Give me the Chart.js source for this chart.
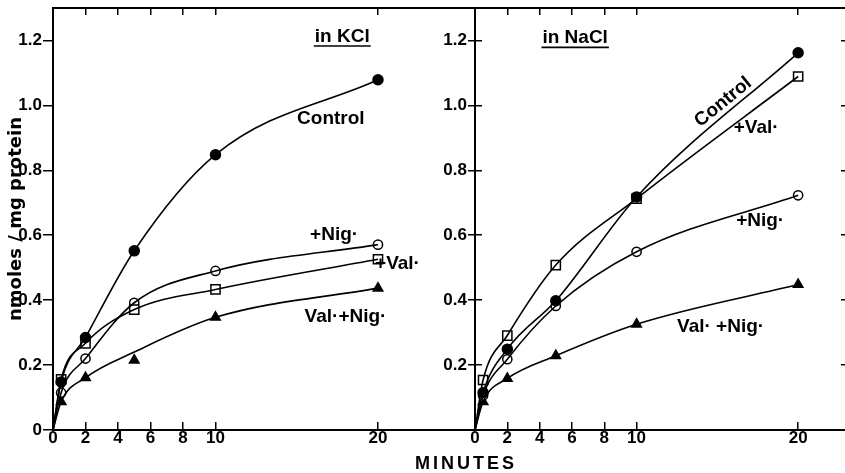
<!DOCTYPE html>
<html><head><meta charset="utf-8">
<script src="https://cdn.jsdelivr.net/npm/chart.js@4.4.1/dist/chart.umd.min.js"></script>
<style>
html,body{margin:0;padding:0;background:#fff;}
#wrap{position:relative;width:845px;height:473px;overflow:hidden;background:#fff;}
#c1{position:absolute;left:0;top:0;}
#c2{position:absolute;left:440px;top:0;}
#xt{position:absolute;left:316px;width:300px;top:453px;text-align:center;font:bold 18px "Liberation Sans",Arial,sans-serif;letter-spacing:3px;line-height:20px;color:#000;}
</style></head><body>
<div id="wrap">
<canvas id="c1" width="475" height="473"></canvas>
<canvas id="c2" width="405" height="473"></canvas>
<div id="xt">MINUTES</div>
</div>
<script>
// ---------- data ----------
const minutes = [0, 0.5, 2, 5, 10, 20];
const xTicks = [0, 2, 4, 6, 8, 10, 20];
const xTickLabels = ['0', '2', '4', '6', '8', '10', '20'];
const yTicks = [0, 0.2, 0.4, 0.6, 0.8, 1.0, 1.2];
const yTickLabelsLeft = ['0', '0.2', '0.4', '0.6', '0.8', '1.0', '1.2'];
const yTickLabelsRight = ['', '0.2', '0.4', '0.6', '0.8', '1.0', '1.2'];

// in KCl (nmoles / mg protein)
const kclControl = [0, 0.148, 0.285, 0.552, 0.848, 1.079];
const kclVal     = [0, 0.156, 0.267, 0.371, 0.433, 0.526];
const kclNig     = [0, 0.115, 0.220, 0.392, 0.490, 0.571];
const kclValNig  = [0, 0.087, 0.161, 0.215, 0.347, 0.437];
const kclValNigCurve = [0, 0.087, 0.161, 0.240, 0.347, 0.437];

// in NaCl (nmoles / mg protein)
const naclControl = [0, 0.115, 0.249, 0.398, 0.718, 1.162];
const naclVal     = [0, 0.154, 0.291, 0.508, 0.713, 1.089];
const naclNig     = [0, 0.106, 0.218, 0.382, 0.549, 0.723];
const naclValNig  = [0, 0.087, 0.159, 0.229, 0.326, 0.448];

const kclLabels  = ['in KCl', 'Control', '+Nig·', '+Val·', 'Val·+Nig·'];
const naclLabels = ['in NaCl', 'Control', '+Val·', '+Nig·', 'Val· +Nig·'];

// ---------- styling / layout ----------
const INK = '#000';
const labelFont = 'bold 19px "Liberation Sans", Arial, sans-serif';
const tickFont = {family: '"Liberation Sans", Arial, sans-serif', size: 17, weight: 'bold'};

const markerStyles = {
  control: {pointStyle: 'circle', pointRadius: 5, backgroundColor: INK},
  val:     {pointStyle: 'rect', pointRadius: 6.5, backgroundColor: '#fff'},
  nig:     {pointStyle: 'circle', pointRadius: 4.6, backgroundColor: '#fff'},
  valnig:  {pointStyle: 'triangle', pointRadius: 5.5, backgroundColor: INK}
};

const kclLabelPos = [
  {x: 17.8, y: 1.212, underline: true},
  {x: 17.1, y: 0.96},
  {x: 17.3, y: 0.600},
  {x: 21.2, y: 0.512},
  {x: 18.0, y: 0.348}
];
const naclLabelPos = [
  {x: 6.2, y: 1.208, underline: true},
  {x: 15.36, y: 1.01, rot: -39},
  {x: 17.4, y: 0.93},
  {x: 17.65, y: 0.646},
  {x: 15.2, y: 0.317}
];

function pts(ys, skipZero) {
  const out = [];
  minutes.forEach((t, i) => { if (!(skipZero && t === 0)) out.push({x: t, y: ys[i]}); });
  return out;
}

function makeLabelPlugin(texts, pos) {
  return {
    id: 'panelLabels',
    afterDatasetsDraw(chart) {
      const {ctx} = chart;
      const xs = chart.scales.x, ys = chart.scales.y;
      ctx.save();
      ctx.fillStyle = INK; ctx.strokeStyle = INK;
      ctx.font = labelFont;
      ctx.textAlign = 'center'; ctx.textBaseline = 'middle';
      texts.forEach((t, i) => {
        const p = pos[i];
        const px = xs.getPixelForValue(p.x), py = ys.getPixelForValue(p.y);
        ctx.save();
        ctx.translate(px, py);
        ctx.rotate((p.rot || 0) * Math.PI / 180);
        ctx.fillText(t, 0, 0);
        if (p.underline) {
          const w = ctx.measureText(t).width;
          ctx.lineWidth = 1.6;
          ctx.beginPath(); ctx.moveTo(-w / 2 - 1, 9.5); ctx.lineTo(w / 2 + 1, 9.5); ctx.stroke();
        }
        ctx.restore();
      });
      ctx.restore();
    }
  };
}

function setTicks(arr) { return s => { s.ticks = arr.map(v => ({value: v})); }; }
function fitH(h) { return s => { s.height = h; s.paddingLeft = 0; s.paddingRight = 0; s.paddingTop = 0; s.paddingBottom = 0; }; }
function fitW(w) { return s => { s.width = w; s.paddingLeft = 0; s.paddingRight = 0; s.paddingTop = 0; s.paddingBottom = 0; }; }

function buildPanel(canvas, series, xMax, isLeft, labels, labelPos) {
  const datasets = [];
  series.forEach(s => {
    datasets.push({
      data: pts(s.curve || s.values, false),
      showLine: true, pointRadius: 0, pointHoverRadius: 0,
      borderColor: INK, borderWidth: 1.6, cubicInterpolationMode: 'monotone', fill: false
    });
  });
  series.forEach(s => {
    const m = markerStyles[s.marker];
    datasets.push({
      data: pts(s.values, true), showLine: false,
      pointStyle: m.pointStyle, pointRadius: m.pointRadius, pointHoverRadius: m.pointRadius,
      backgroundColor: m.backgroundColor, borderColor: INK, pointBorderWidth: 1.5
    });
  });

  const scales = {
    x: {
      type: 'linear', position: 'bottom', min: 0, max: xMax,
      afterBuildTicks: setTicks(xTicks),
      afterFit: fitH(43),
      border: {display: true, color: INK, width: 2},
      grid: {display: true, drawOnChartArea: false, drawTicks: true, tickLength: -8, color: INK, lineWidth: 1.5},
      ticks: {color: INK, font: tickFont, padding: 6, maxRotation: 0, autoSkip: false,
              callback: (v, i) => xTickLabels[i]}
    },
    xTop: {
      type: 'linear', position: 'top', min: 0, max: xMax,
      afterBuildTicks: setTicks(xTicks),
      afterFit: fitH(8),
      border: {display: true, color: INK, width: 2},
      grid: {display: true, drawOnChartArea: false, drawTicks: true, tickLength: -7, color: INK, lineWidth: 1.5},
      ticks: {display: false}
    },
    y: {
      type: 'linear', position: 'left', min: 0, max: 1.3, weight: 1,
      afterBuildTicks: setTicks(yTicks),
      afterFit: fitW(isLeft ? 53 : 35),
      border: {display: true, color: INK, width: 2},
      grid: {display: true, drawOnChartArea: false, drawTicks: true, tickLength: isLeft ? 10 : 7, color: INK, lineWidth: 1.5},
      ticks: {color: INK, font: tickFont, padding: 1,
              callback: (v, i) => (isLeft ? yTickLabelsLeft : yTickLabelsRight)[i]},
      title: isLeft ? {display: true, text: 'nmoles / mg protein', color: INK,
              font: {family: '"DejaVu Sans", sans-serif', size: 18, weight: 'bold'}, padding: {top: 6, bottom: 0}} : {display: false}
    }
  };
  if (!isLeft) {
    scales.yIn = {
      type: 'linear', position: 'left', min: 0, max: 1.3, weight: 0,
      afterBuildTicks: setTicks(yTicks),
      afterFit: fitW(0),
      border: {display: false},
      grid: {display: true, drawOnChartArea: false, drawTicks: true, tickLength: -7, color: INK, lineWidth: 1.5},
      ticks: {display: false}
    };
    scales.yR = {
      type: 'linear', position: 'right', min: 0, max: 1.3,
      afterBuildTicks: setTicks(yTicks),
      afterFit: fitW(0),
      border: {display: false},
      grid: {display: true, drawOnChartArea: false, drawTicks: true, tickLength: -4, color: INK, lineWidth: 1.5},
      ticks: {display: false}
    };
  }

  return new Chart(canvas, {
    type: 'scatter',
    data: {datasets},
    options: {
      responsive: false, animation: false, devicePixelRatio: 1,
      layout: {padding: 0, autoPadding: false},
      events: [],
      plugins: {legend: {display: false}, tooltip: {enabled: false}, title: {display: false}},
      scales
    },
    plugins: [makeLabelPlugin(labels, labelPos)]
  });
}

buildPanel(document.getElementById('c1'), [
  {values: kclControl, marker: 'control'},
  {values: kclVal, marker: 'val'},
  {values: kclNig, marker: 'nig'},
  {values: kclValNig, curve: kclValNigCurve, marker: 'valnig'}
], 25.97, true, kclLabels, kclLabelPos);

buildPanel(document.getElementById('c2'), [
  {values: naclControl, marker: 'control'},
  {values: naclVal, marker: 'val'},
  {values: naclNig, marker: 'nig'},
  {values: naclValNig, marker: 'valnig'}
], 22.9, false, naclLabels, naclLabelPos);
</script>
</body></html>
